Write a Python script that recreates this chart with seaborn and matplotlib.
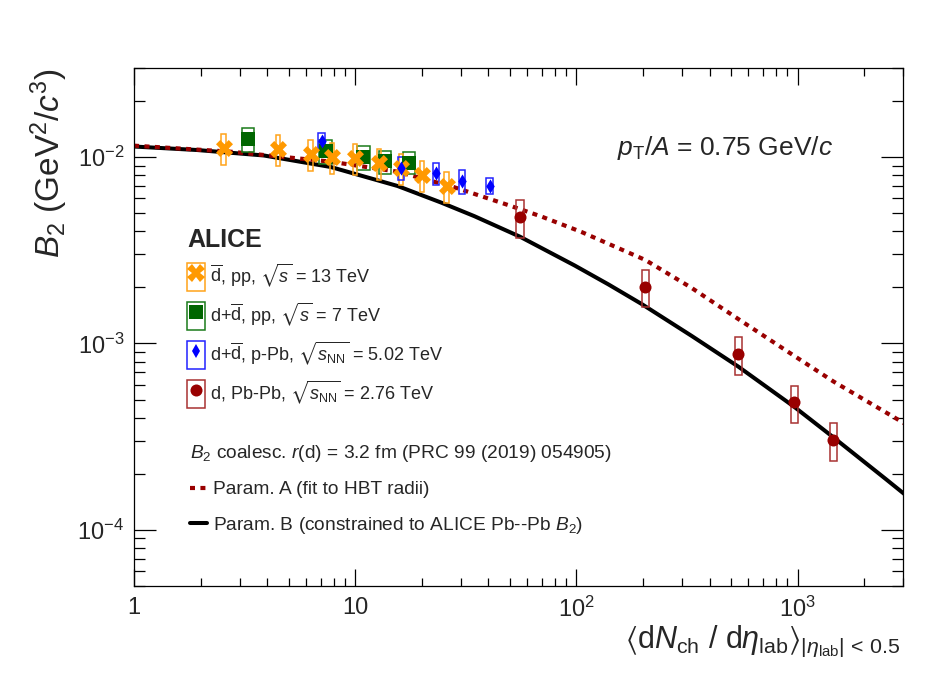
import matplotlib
matplotlib.use("Agg")
import numpy as np
import pandas as pd
import matplotlib.pyplot as plt
import seaborn as sns
from matplotlib.patches import Rectangle, Patch
from matplotlib.lines import Line2D
from matplotlib.legend_handler import HandlerTuple
from matplotlib.ticker import LogLocator, NullFormatter

# ALICE points: <dNch/deta>, B2 (GeV^2/c^3), relative syst. error
pp13_mult = [2.54, 4.48, 6.28, 7.88, 9.98, 12.8, 16.1, 20.1, 25.9]
pp13_b2 = [0.01113, 0.01104, 0.01034, 0.01004, 0.00984, 0.00925, 0.00870, 0.00801, 0.00702]
pp13_sys = [0.19, 0.19, 0.19, 0.19, 0.19, 0.19, 0.19, 0.19, 0.19]

pp7_mult = [3.28, 7.35, 10.9, 13.6, 17.5]
pp7_b2 = [0.01244, 0.01077, 0.0100, 0.00946, 0.00934]
pp7_sys = [0.15, 0.145, 0.145, 0.14, 0.135]

ppb_mult = [7.05, 16.1, 23.2, 30.4, 40.5]
ppb_b2 = [0.01218, 0.00873, 0.00818, 0.0074, 0.00702]
ppb_sys = [0.11, 0.14, 0.14, 0.145, 0.10]

pbpb_mult = [55.7, 205, 539, 967, 1453]
pbpb_b2 = [0.00478, 0.00202, 0.000882, 0.000484, 0.000304]
pbpb_sys = [0.228, 0.228, 0.228, 0.228, 0.228]

# coalescence curves, read at sample points
parA_mult = [1.0, 2.725, 7.742, 15.54, 28.06, 49.0, 69.4, 105.4, 204.9, 332.2, 538.9,
             967.1, 1453.6, 3073]
parA_b2 = [0.01150, 0.01068, 0.00944, 0.00834, 0.00688, 0.00553, 0.004797, 0.003962,
           0.002804, 0.001984, 0.001353, 0.000857, 0.000625, 0.000370]
parB_mult = [1.0, 1.925, 3.859, 7.742, 15.54, 24.42, 34.57, 55.56, 98.2, 139.7, 197.2,
             332.2, 538.9, 967.1, 1453.6, 2501, 3073]
parB_b2 = [0.01138, 0.01090, 0.01019, 0.00884, 0.00699, 0.00570, 0.004815, 0.003738,
           0.002619, 0.002072, 0.001628, 0.001097, 0.000752, 0.0004566, 0.0003133,
           0.0001877, 0.0001541]

x_ticks = [1, 10, 100, 1000]
x_ticklabels = ["1", "10", "$10^{2}$", "$10^{3}$"]
y_ticks = [1e-4, 1e-3, 1e-2]
y_ticklabels = ["$10^{-4}$", "$10^{-3}$", "$10^{-2}$"]

sns.set_style("ticks")
plt.rcParams['font.family'] = ['Liberation Sans', 'DejaVu Sans']
plt.rcParams['mathtext.fontset'] = 'custom'
plt.rcParams['mathtext.rm'] = 'Liberation Sans'
plt.rcParams['mathtext.it'] = 'Liberation Sans:italic'
plt.rcParams['mathtext.bf'] = 'Liberation Sans:bold'
plt.rcParams['mathtext.fallback'] = 'stixsans'

fig = plt.figure(figsize=(9.5, 6.83), dpi=100)
ax = fig.add_axes([0.1411, 0.1420, 0.8095, 0.7584])
ax.set_xscale('log')
ax.set_yscale('log')

DARKRED = "#990000"
datasets = [
    # mult, b2, sys, marker, size, color, edge, box half width (dex), label
    (pp7_mult, pp7_b2, pp7_sys, 's', 100, "#006600", "#1a7a1a", 0.028,
     r"d+$\overline{\rm d}$, pp, $\sqrt{s}$ = 7 TeV"),
    (pp13_mult, pp13_b2, pp13_sys, 'X', 150, "#ff9900", "#ffa31a", 0.0098,
     r"$\overline{\rm d}$, pp, $\sqrt{s}$ = 13 TeV"),
    (ppb_mult, ppb_b2, ppb_sys, 'd', 52, "#0000ff", "#2222ff", 0.0143,
     r"d+$\overline{\rm d}$, p-Pb, $\sqrt{s_{\rm NN}}$ = 5.02 TeV"),
    (pbpb_mult, pbpb_b2, pbpb_sys, 'o', 75, DARKRED, "#a83232", 0.0166,
     r"d, Pb-Pb, $\sqrt{s_{\rm NN}}$ = 2.76 TeV"),
]

# model curves
curveA = pd.DataFrame({"mult": parA_mult, "b2": parA_b2})
curveB = pd.DataFrame({"mult": parB_mult, "b2": parB_b2})
sns.lineplot(data=curveB, x="mult", y="b2", ax=ax, color="black", linewidth=2.9,
             errorbar=None, zorder=1)
sns.lineplot(data=curveA, x="mult", y="b2", ax=ax, color=DARKRED, linewidth=3.0,
             linestyle=(0, (1.2, 1.3)), errorbar=None, zorder=1)

handles = {}
for mult, b2, sys, mk, size, col, edge, hw, label in datasets:
    df = pd.DataFrame({"mult": mult, "b2": b2, "sys": sys})
    for _, r in df.iterrows():
        x0 = r.mult * 10 ** (-hw)
        x1 = r.mult * 10 ** hw
        ax.add_patch(Rectangle((x0, r.b2 * (1 - r.sys)), x1 - x0, 2 * r.b2 * r.sys,
                               facecolor='none', edgecolor=edge, linewidth=1.1, zorder=2))
    sns.scatterplot(data=df, x="mult", y="b2", ax=ax, marker=mk, s=size, color=col,
                    edgecolor=col, linewidth=0, zorder=3, legend=False)
    handles[label] = (Patch(facecolor='none', edgecolor=edge, linewidth=1.1),
                      Line2D([], [], linestyle='none', marker=mk, color=col,
                             markersize=np.sqrt(size), markeredgewidth=0))

ax.set_xlim(1, 3000)
ax.set_ylim(5e-5, 3e-2)

ax.xaxis.set_major_locator(LogLocator(base=10, numticks=20))
ax.xaxis.set_minor_locator(LogLocator(base=10, subs=np.arange(2, 10), numticks=20))
ax.yaxis.set_minor_locator(LogLocator(base=10, subs=np.arange(2, 10), numticks=20))
ax.set_xticks(x_ticks, x_ticklabels)
ax.set_yticks(y_ticks, y_ticklabels)
ax.xaxis.set_minor_formatter(NullFormatter())
ax.yaxis.set_minor_formatter(NullFormatter())
ax.tick_params(which='both', direction='in', top=True, right=True, width=0.9,
               labelsize=17, color='black')
ax.tick_params(axis='x', which='major', length=12, pad=8)
ax.tick_params(axis='x', which='minor', length=6)
ax.tick_params(axis='y', which='major', length=15.6, pad=7)
ax.tick_params(axis='y', which='minor', length=7.9)
for s in ax.spines.values():
    s.set_linewidth(0.9)
    s.set_color('black')

ax.set_xlabel(r"$\langle$d$N_{\rm ch}$ / d$\eta_{\rm lab}\rangle_{|\eta_{\rm lab}|\,<\,0.5}$",
              fontsize=22, loc='right')
ax.xaxis.set_label_coords(0.997, -0.072)
ax.set_ylabel(r"$B_{2}$ (GeV$^{2}$/$c^{3}$)", fontsize=24, loc='top')
ax.yaxis.set_label_coords(-0.083, 1.0)

ax.text(0.628, 0.846, r"$p_{\rm T}/A$ = 0.75 GeV/$c$", transform=ax.transAxes,
        fontsize=19, ha='left', va='center')

order = [datasets[1][-1], datasets[0][-1], datasets[2][-1], datasets[3][-1]]
leg1 = ax.legend([handles[k] for k in order], order, title="ALICE",
                 title_fontproperties={'weight': 'bold', 'size': 18},
                 loc='upper left', bbox_to_anchor=(0.069, 0.692), frameon=False,
                 fontsize=13, handlelength=1.0, handleheight=2.0, handletextpad=0.28,
                 labelspacing=0.56, alignment='left', borderpad=0, borderaxespad=0,
                 handler_map={tuple: HandlerTuple(ndivide=1)})
ax.add_artist(leg1)

model_handles = [Line2D([], [], color=DARKRED, linewidth=3.0, linestyle=(0, (1.2, 1.3))),
                 Line2D([], [], color='black', linewidth=2.9)]
model_labels = ["Param. A (fit to HBT radii)",
                r"Param. B (constrained to ALICE Pb--Pb $B_{2}$)"]
ax.legend(model_handles, model_labels,
          title=r"$B_{2}$ coalesc. $r$(d) = 3.2 fm (PRC 99 (2019) 054905)",
          title_fontproperties={'size': 13.8},
          loc='upper left', bbox_to_anchor=(0.073, 0.276), frameon=False,
          fontsize=13.8, handlelength=0.89, handletextpad=0.31, labelspacing=0.88,
          alignment='left', borderpad=0, borderaxespad=0)

fig.savefig("out.png", dpi=100)
